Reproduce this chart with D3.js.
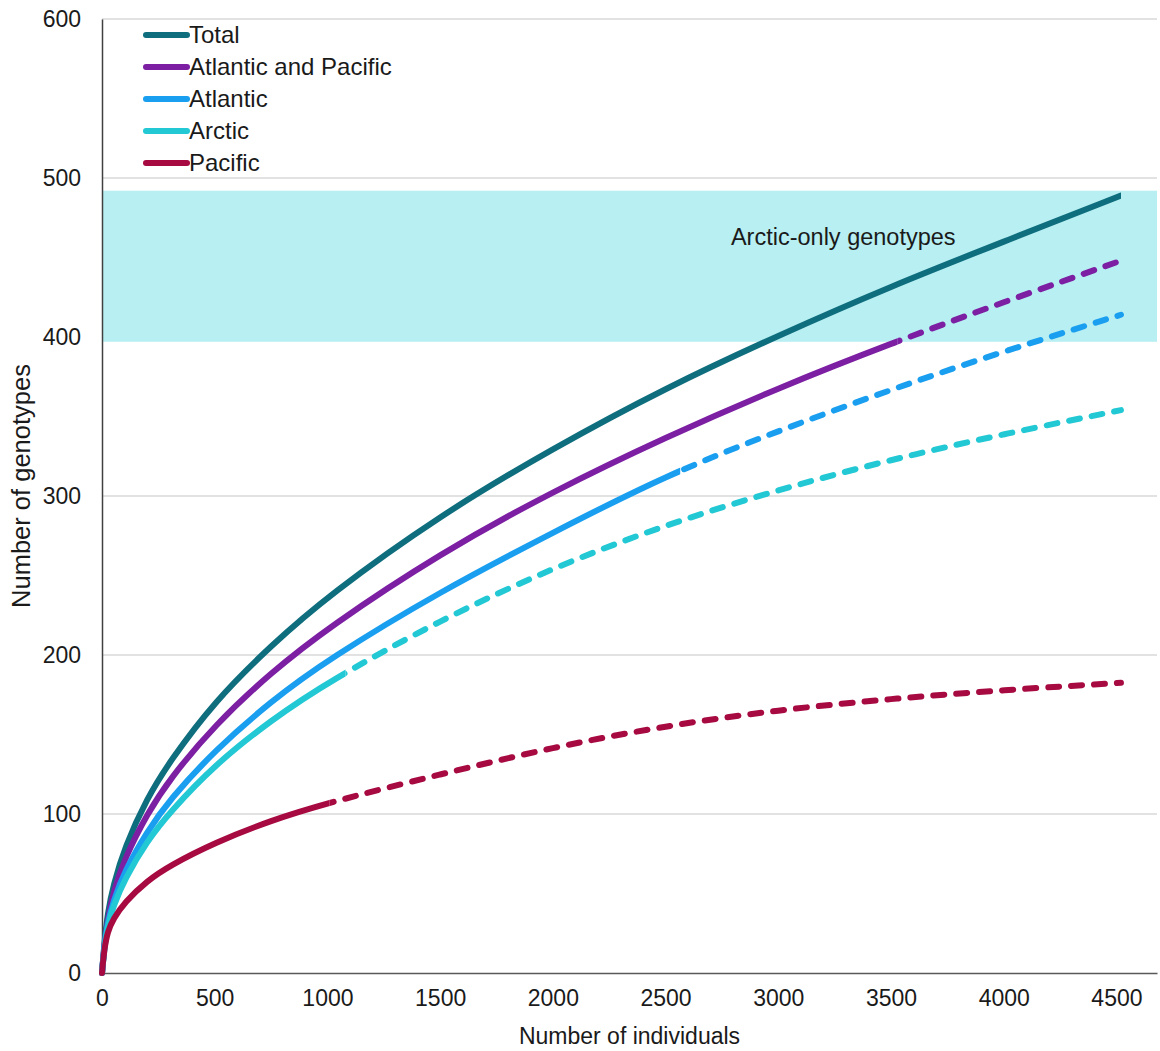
<!DOCTYPE html>
<html>
<head>
<meta charset="utf-8">
<script src="https://cdn.jsdelivr.net/npm/d3@7"></script>
<style>
  body { margin: 0; background: #fff; }
  text { font-family: "Liberation Sans", Arial, sans-serif; fill: #1a1a1a; }
</style>
</head>
<body>
<div id="wrapper"></div>
<script>
// sample points along x (number of individuals)
const sampleX = [0, 10, 25, 50, 100, 200, 300, 500, 750, 1000, 1500, 2000, 2500, 3000, 3500, 4000, 4520]

// number of genotypes
const totalVals    = [0, 18, 38, 55, 79, 110, 133, 171, 206, 237, 288, 330, 368, 401, 432, 460, 489]
const atlPacVals   = [0, 17, 33, 51, 72, 100, 122, 156, 189, 217, 264, 303, 337, 368, 396, 422, 448]
const atlanticVals = [0, 16, 32, 45, 64, 89, 109, 140, 171, 197, 240, 277, 313, 341, 367, 391, 414]
const arcticVals   = [0, 15, 30, 42, 59, 83, 101, 131, 159, 183, 222, 255, 282, 304, 323, 339, 354]
const pacificVals  = [0, 15, 26, 34, 44.5, 58, 67.5, 82, 96, 107, 125, 142, 155.5, 165.5, 172.5, 178, 182.5]

// where each observed (solid) curve turns into the extrapolated (dashed) one
const solidUntil = [4520, 3530, 2565, 1080, 1010]

const seriesNames = ["Total", "Atlantic and Pacific", "Atlantic", "Arctic", "Pacific"]
const seriesColors = ["#0f6e7e", "#7c1fa3", "#1a9ff0", "#22c8d3", "#a70a40"]
const seriesVals = [totalVals, atlPacVals, atlanticVals, arcticVals, pacificVals]

// shaded band of arctic-only genotypes
const bandRange = [397, 492]
const bandLabel = "Arctic-only genotypes"

const xTicks = [0, 500, 1000, 1500, 2000, 2500, 3000, 3500, 4000, 4500]
const yTicks = [0, 100, 200, 300, 400, 500, 600]

const dms = {
  width: 1160,
  height: 1051,
  margin: { top: 19, right: 3, bottom: 78, left: 102 },
}
dms.boundedWidth = dms.width - dms.margin.left - dms.margin.right
dms.boundedHeight = dms.height - dms.margin.top - dms.margin.bottom

const svg = d3.select("#wrapper")
  .append("svg")
  .attr("width", dms.width)
  .attr("height", dms.height)

const bounds = svg.append("g")
  .attr("transform", `translate(${dms.margin.left},${dms.margin.top})`)

const xScale = d3.scaleLinear()
  .domain([0, 4680])
  .range([0, dms.boundedWidth])

const yScale = d3.scaleLinear()
  .domain([0, 600])
  .range([dms.boundedHeight, 0])

// gridlines
bounds.append("g")
  .selectAll("line")
  .data(yTicks.filter(d => d > 0))
  .join("line")
  .attr("x1", 0)
  .attr("x2", dms.boundedWidth)
  .attr("y1", d => yScale(d))
  .attr("y2", d => yScale(d))
  .attr("stroke", "#d9d9d9")
  .attr("stroke-width", 1.5)

// band
bounds.append("rect")
  .attr("x", 0)
  .attr("width", dms.boundedWidth)
  .attr("y", yScale(bandRange[1]))
  .attr("height", yScale(bandRange[0]) - yScale(bandRange[1]))
  .attr("fill", "#b7eff2")

bounds.append("text")
  .attr("x", xScale(2790))
  .attr("y", yScale(463))
  .attr("dy", "0.35em")
  .style("font-size", "23.5px")
  .text(bandLabel)

// axes
const xAxis = bounds.append("g")
  .attr("transform", `translate(0,${dms.boundedHeight})`)
  .call(d3.axisBottom(xScale).tickValues(xTicks).tickFormat(d3.format("d")).tickSize(0).tickPadding(17))
xAxis.select(".domain").attr("stroke", "#595959").attr("stroke-width", 1.5)
xAxis.selectAll("text").style("font-size", "23px").attr("fill", "#1a1a1a")

const yAxis = bounds.append("g")
  .call(d3.axisLeft(yScale).tickValues(yTicks).tickFormat(d3.format("d")).tickSize(0).tickPadding(21))
yAxis.select(".domain").attr("stroke", "#404040").attr("stroke-width", 1.5)
yAxis.selectAll("text").style("font-size", "23px").attr("fill", "#1a1a1a")

bounds.append("text")
  .attr("x", dms.boundedWidth / 2)
  .attr("y", dms.boundedHeight + 71)
  .attr("text-anchor", "middle")
  .style("font-size", "23px")
  .text("Number of individuals")

bounds.append("text")
  .attr("transform", `translate(${-72},${dms.boundedHeight / 2 - 10}) rotate(-90)`)
  .attr("text-anchor", "middle")
  .style("font-size", "25.5px")
  .text("Number of genotypes")

// curves
const lineGen = d3.line()
  .x(d => xScale(d[0]))
  .y(d => yScale(d[1]))
  .curve(d3.curveBasis)

const defs = svg.append("defs")

seriesVals.forEach((vals, i) => {
  const pts = sampleX.map((x, j) => [x, vals[j]])
  const brk = xScale(solidUntil[i])

  defs.append("clipPath").attr("id", `solid-${i}`)
    .append("rect")
    .attr("x", -20).attr("y", -20)
    .attr("width", brk + 20).attr("height", dms.boundedHeight + 40)
  defs.append("clipPath").attr("id", `dash-${i}`)
    .append("rect")
    .attr("x", brk).attr("y", -20)
    .attr("width", dms.boundedWidth).attr("height", dms.boundedHeight + 40)

  bounds.append("path")
    .datum(pts)
    .attr("d", lineGen)
    .attr("fill", "none")
    .attr("stroke", seriesColors[i])
    .attr("stroke-width", 6)
    .attr("stroke-linecap", "round")
    .attr("clip-path", `url(#solid-${i})`)

  if (solidUntil[i] < sampleX[sampleX.length - 1]) {
    bounds.append("path")
      .datum(pts)
      .attr("d", lineGen)
      .attr("fill", "none")
      .attr("stroke", seriesColors[i])
      .attr("stroke-width", 6)
      .attr("stroke-linecap", "round")
      .attr("stroke-dasharray", "11 12")
      .attr("clip-path", `url(#dash-${i})`)
  }
})

// legend
const legend = svg.append("g")
  .attr("transform", "translate(146,35)")

const legendRow = legend.selectAll("g")
  .data(seriesNames)
  .join("g")
  .attr("transform", (d, i) => `translate(0,${i * 32})`)

legendRow.append("line")
  .attr("x1", 0)
  .attr("x2", 41)
  .attr("stroke", (d, i) => seriesColors[i])
  .attr("stroke-width", 6)
  .attr("stroke-linecap", "round")

legendRow.append("text")
  .attr("x", 43)
  .attr("dy", "0.35em")
  .style("font-size", "24px")
  .text(d => d)
</script>
</body>
</html>
